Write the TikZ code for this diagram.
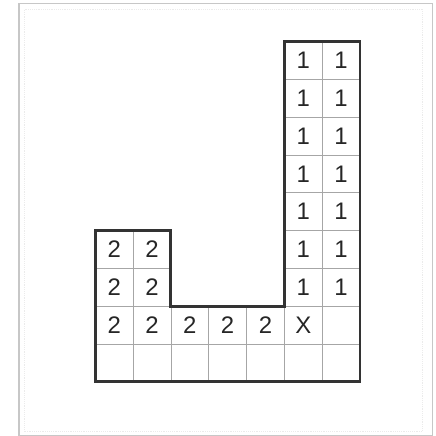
\documentclass[tikz,border=0pt]{standalone}
\usepackage{fontspec}
\setmainfont{Liberation Sans}
\tikzset{
  cell/.style={
    rectangle,
    minimum size=1cm,
    inner sep=0pt,
    text centered,
    text=black!85,
    font=\fontsize{18}{20}\selectfont},
  gridline/.style={draw=black!35, line width=0.6pt},
  outline/.style={draw=black!80, line width=2.2pt, line join=miter},
  frame/.style={draw=black!22, line width=0.9pt},
}
\begin{document}
\begin{tikzpicture}
\useasboundingbox (-2.52,-1.43) rectangle (8.99,10.10);
\draw[frame] (-2.02,-1.42) rectangle (8.91,10.0);
\draw[black!8, densely dotted] (-1.88,-1.30) rectangle (8.65,9.86);

% grid inside the region
\begin{scope}
\clip (0,0) -- (0,4) -- (2,4) -- (2,2) -- (5,2) -- (5,9) -- (7,9) -- (7,0) -- cycle;
\draw[gridline] (0,0) grid (7,9);
\end{scope}

\draw[outline] (0,0) -- (0,4) -- (2,4) -- (2,2) -- (5,2) -- (5,9) -- (7,9) -- (7,0) -- cycle;

% the 1s in the tall column
\foreach \r in {2,...,8}
  \foreach \c in {5,6}
    \node[cell] (one-\r-\c) at (\c+0.5,\r+0.5) {1};

% the 2s
\foreach \r in {1,2,3}
  \foreach \c in {0,1}
    \node[cell] (two-\r-\c) at (\c+0.5,\r+0.5) {2};
\foreach \c in {2,3,4}
  \node[cell] (two-1-\c) at (\c+0.5,1.5) {2};

\node[cell] at (5.5,1.5) (cross) {X};
\end{tikzpicture}
\end{document}
